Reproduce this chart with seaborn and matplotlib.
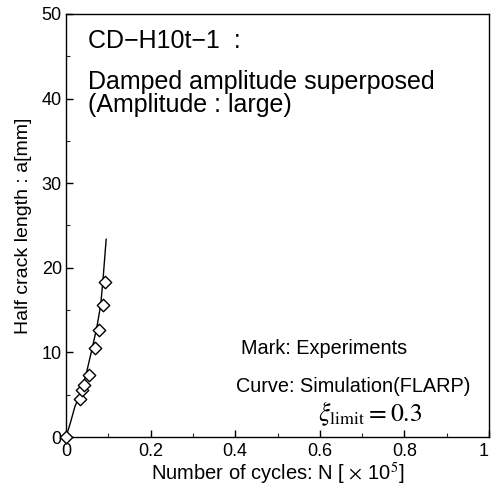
import matplotlib
matplotlib.use("Agg")
import matplotlib.pyplot as plt
import seaborn as sns
import pandas as pd
from matplotlib.ticker import MultipleLocator

sns.set_theme(style="ticks")
plt.rcParams['font.family'] = ['Liberation Sans', 'DejaVu Sans']
plt.rcParams['mathtext.fontset'] = 'stix'

# Experimental data (N in 1e5 cycles, a in mm)
exp_N = [0.0, 0.033, 0.039, 0.043, 0.054, 0.068, 0.079, 0.087, 0.092]
exp_a = [0.0, 4.5, 5.5, 6.1, 7.3, 10.5, 12.6, 15.6, 18.3]

# Simulation curve
sim_N = [0.0, 0.010, 0.021, 0.029, 0.047, 0.062, 0.073, 0.082, 0.087, 0.095]
sim_a = [0.0, 1.6, 3.6, 4.5, 7.3, 10.5, 13.0, 15.6, 18.3, 23.4]

x_ticks = [0, 0.2, 0.4, 0.6, 0.8, 1]
x_tick_labels = ["0", "0.2", "0.4", "0.6", "0.8", "1"]
y_ticks = [0, 10, 20, 30, 40, 50]

df_exp = pd.DataFrame({"N": exp_N, "a": exp_a})
df_sim = pd.DataFrame({"N": sim_N, "a": sim_a})

fig = plt.figure(figsize=(4.92, 4.94), dpi=100)
ax = fig.add_axes([66/492, 57/494, 423/492, 423/494])

sns.lineplot(data=df_sim, x="N", y="a", ax=ax, color="black", lw=1.0, sort=False)
sns.scatterplot(data=df_exp, x="N", y="a", ax=ax, marker="D", s=40,
                facecolor="white", edgecolor="black", linewidth=1.0, zorder=5, clip_on=False)

ax.set_xlim(0, 1)
ax.set_ylim(0, 50)
ax.set_xticks(x_ticks)
ax.set_xticklabels(x_tick_labels)
ax.set_yticks(y_ticks)
ax.xaxis.set_minor_locator(MultipleLocator(0.1))
ax.yaxis.set_minor_locator(MultipleLocator(5))
ax.tick_params(which="major", direction="in", length=5, width=1, labelsize=13, colors="black")
ax.tick_params(axis="x", which="major", pad=4)
ax.tick_params(axis="y", which="major", pad=3)
ax.tick_params(which="minor", direction="in", length=3, width=0.8)
for s in ax.spines.values():
    s.set_color("black")
    s.set_linewidth(1.0)
# keep the last x tick label inside the figure
ax.get_xticklabels()[-1].set_horizontalalignment("right")

ax.set_xlabel(r"Number of cycles: N [ $\times$ 10$^{5}$]", fontsize=14.5, color="black", labelpad=1)
ax.set_ylabel("Half crack length : a[mm]", fontsize=14, color="black", labelpad=7)

ax.text(0.052, 0.936, "CD\u2212H10t\u22121  :", transform=ax.transAxes, fontsize=18, color="black", va="center")
ax.text(0.052, 0.812, "Damped amplitude superposed\n(Amplitude : large)", transform=ax.transAxes,
        fontsize=18, color="black", va="center", linespacing=0.9)
ax.text(0.413, 0.210, "Mark: Experiments", transform=ax.transAxes, fontsize=14.3, color="black", va="center")
ax.text(0.402, 0.120, "Curve: Simulation(FLARP)", transform=ax.transAxes, fontsize=14.3, color="black", va="center")
ax.text(0.596, 0.054, r"$\xi_{\mathrm{limit}} = 0.3$", transform=ax.transAxes, fontsize=18.5, color="black", va="center")

fig.savefig("out.png", dpi=100)
